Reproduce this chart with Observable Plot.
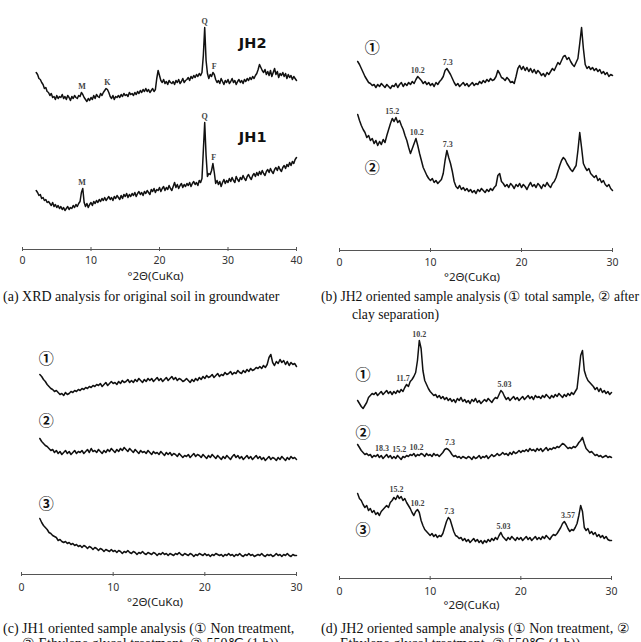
<!DOCTYPE html>
<html>
<head>
<meta charset="utf-8">
<script src="https://cdn.jsdelivr.net/npm/d3@7"></script>
<script src="https://cdn.jsdelivr.net/npm/@observablehq/plot@0.6"></script>
<style>
  html, body { margin: 0; padding: 0; background: #fff; }
  body { width: 641px; height: 642px; overflow: hidden; position: relative; }
  .panel { position: absolute; }
  .panel svg { overflow: visible; background: none; }
  .cap { position: absolute; font-family: "Liberation Serif", "Times New Roman", serif;
         font-size: 14px; line-height: 16px; color: #111; white-space: nowrap;
         transform-origin: 0 0; }
</style>
</head>
<body>
<div id="pa" class="panel" style="left:0px;top:0px"></div>
<div id="pb" class="panel" style="left:320px;top:0px"></div>
<div id="pc" class="panel" style="left:0px;top:320px"></div>
<div id="pd" class="panel" style="left:320px;top:320px"></div>

<div class="cap" data-fit="280" style="left:3px;top:289px">(a) XRD analysis for original soil in groundwater</div>
<div class="cap" data-fit="318" data-group="b" style="left:321px;top:289px">(b) JH2 oriented sample analysis (① total sample, ② after</div>
<div class="cap" data-group="b" style="left:352px;top:307px">clay separation)</div>
<div class="cap" data-fit="299" data-group="c" style="left:3px;top:621px">(c) JH1 oriented sample analysis (① Non treatment,</div>
<div class="cap" data-group="c" style="left:22px;top:636px">② Ethylene glycol treatment, ③ 550℃ (1 h))</div>
<div class="cap" data-fit="311" data-group="d" style="left:321px;top:621px">(d) JH2 oriented sample analysis (① Non treatment, ②</div>
<div class="cap" data-group="d" style="left:340px;top:636px">Ethylene glycol treatment, ③ 550℃ (1 h))</div>

<script>
// Diffractograms sampled from 2° to the end of each scan every 0.2° 2θ.
const scanStart = 2;
const scanStep = 0.2;
const axisTitle = "°2Θ(CuKα)";

// (a) original soil, 2–40° 2θ
const jh2Original = [
  28,26,22,21,18,16,12,13,9,8,
  5,7,3,4,1,5,2,4,3,6,
  2,4,1,5,3,0,4,2,5,3,
  2,5,4,8,6,3,1,-1,2,0,
  3,1,5,2,6,4,3,7,5,8,
  10,12,11,8,4,2,5,1,4,3,
  5,3,6,4,7,5,6,4,8,6,
  7,5,8,6,9,7,10,8,11,9,
  12,9,11,8,10,12,9,11,22,30,
  25,20,18,21,17,19,16,20,18,17,
  19,16,20,18,21,17,19,22,18,20,
  21,23,20,24,22,25,23,26,24,27,
  25,28,45,73,40,27,22,26,24,28,
  26,21,18,20,17,22,19,16,20,18,
  21,17,19,22,18,20,16,19,21,18,
  20,17,21,19,22,20,23,21,24,22,
  25,27,31,36,33,30,28,31,26,29,
  25,30,24,28,32,26,29,23,27,25,
  28,24,27,22,26,23,25,21,24,22,
  20
];
const jh1Original = [
  20,18,15,16,12,13,10,11,8,9,
  7,5,8,4,6,3,5,2,4,1,
  3,0,2,4,1,3,2,5,3,6,
  4,7,9,18,22,8,4,7,3,6,
  8,5,9,7,10,8,11,9,12,10,
  13,10,12,14,11,13,10,14,12,15,
  13,11,15,12,16,14,17,13,16,14,
  17,15,18,14,17,19,16,18,15,19,
  17,20,18,16,21,19,22,18,21,20,
  23,19,22,24,20,23,21,25,22,20,
  24,28,23,26,22,25,27,23,26,24,
  27,25,28,24,27,29,26,28,25,30,
  28,32,60,88,55,34,37,36,40,47,
  38,27,30,26,29,24,28,31,27,30,
  28,32,29,33,30,28,34,31,29,33,
  31,35,32,30,34,36,33,31,35,37,
  34,38,35,39,36,40,37,35,39,41,
  38,42,39,37,41,43,40,44,41,39,
  43,45,42,46,44,48,45,49,47,51,
  53
];

// (b) JH2 oriented, 2–30° 2θ
const jh2Total = [
  27,24,20,16,12,9,6,5,3,4,
  1,4,2,5,3,1,4,2,0,3,
  2,5,1,4,6,2,5,3,6,4,
  7,5,9,12,10,8,5,7,4,6,
  3,5,2,6,4,7,9,12,18,20,
  17,14,10,6,3,5,2,4,6,3,
  5,2,4,6,3,5,4,7,5,8,
  6,9,7,10,8,9,12,18,15,11,
  10,8,11,9,6,7,5,12,20,23,
  19,22,18,21,17,20,16,19,15,18,
  16,13,15,12,16,14,17,20,18,22,
  26,24,28,32,33,29,31,27,24,22,
  26,30,45,61,40,24,20,22,19,21,
  18,20,17,19,15,17,14,16,12,14,
  13
];
const jh2Clay = [
  81,75,70,66,63,58,60,55,57,52,
  55,50,54,51,56,53,60,66,72,77,
  74,78,73,75,70,66,60,55,48,42,
  47,52,57,50,42,35,28,24,20,17,
  15,17,13,15,12,14,16,22,35,45,
  38,32,24,14,9,7,10,6,8,5,
  7,4,6,3,5,2,6,4,7,5,
  3,6,4,7,5,8,10,20,22,14,
  12,9,11,8,12,10,7,11,9,12,
  8,11,9,6,10,13,9,11,8,12,
  10,7,11,9,13,10,8,12,14,18,
  24,30,35,38,36,32,29,26,24,27,
  30,45,63,48,32,28,25,27,22,20,
  18,20,15,17,13,15,11,9,11,7,
  5
];

// (c) JH1 oriented, 2–30° 2θ
const jh1Untreated = [
  21,19,16,14,11,9,7,6,4,5,
  3,1,2,0,3,1,2,4,3,5,
  4,6,5,7,6,8,7,9,8,10,
  9,11,10,12,9,11,13,10,12,14,
  12,13,11,14,12,15,13,14,16,13,
  15,13,16,14,17,15,13,16,14,17,
  15,17,14,16,18,15,17,14,16,18,
  15,17,19,16,18,15,17,16,14,15,
  17,15,13,16,14,17,15,18,16,19,
  17,20,18,19,21,18,20,22,19,21,
  20,23,21,22,24,21,23,22,25,23,
  22,25,23,26,24,27,25,26,28,27,
  29,27,30,28,31,38,41,33,30,34,
  32,36,33,35,31,34,30,33,31,32,
  29
];
const jh1Glycol = [
  22,19,17,15,14,12,10,11,8,10,
  7,9,6,8,10,7,9,6,8,10,
  7,9,8,10,7,9,11,8,12,9,
  10,8,11,9,7,10,8,11,9,12,
  10,8,11,9,12,10,13,11,9,12,
  10,8,11,9,7,10,8,9,7,10,
  8,6,9,7,8,6,9,7,5,8,
  6,8,5,7,6,4,7,5,3,5,
  4,6,3,5,7,4,6,5,3,6,
  4,2,5,3,6,4,2,5,3,1,
  4,2,5,3,1,4,6,3,5,2,
  4,1,3,5,2,4,1,3,5,2,
  4,1,3,0,2,4,1,3,2,0,
  3,1,4,2,0,3,1,4,2,3,
  1
];
const jh1Heated = [
  38,34,31,29,27,24,23,21,20,19,
  16,17,15,14,15,13,14,12,13,11,
  12,10,11,9,11,10,8,10,9,7,
  9,8,6,8,7,5,7,6,5,7,
  5,6,4,6,5,3,5,4,6,4,
  3,5,4,2,4,3,5,3,2,4,
  3,2,4,3,1,3,2,4,2,3,
  1,3,2,1,3,2,4,2,1,3,
  2,1,3,2,0,2,1,3,2,1,
  3,1,2,0,2,1,3,2,1,2,
  0,2,1,3,1,2,0,2,1,3,
  1,0,2,1,3,1,2,0,1,2,
  1,3,1,0,2,1,2,0,1,3,
  1,2,0,2,1,3,1,0,2,1,
  1
];

// (d) JH2 oriented, 2–30° 2θ
const jh2Untreated = [
  10,7,4,2,5,8,13,15,17,16,
  18,15,17,19,16,18,20,17,19,16,
  19,17,20,18,21,19,23,26,24,29,
  31,34,38,50,70,62,40,30,26,22,
  19,17,15,16,13,15,12,14,11,13,
  10,12,9,11,8,12,10,13,9,11,
  8,10,7,11,9,12,8,10,7,9,
  11,9,12,10,8,11,13,12,16,20,
  18,14,11,13,10,12,14,11,13,10,
  12,14,11,13,15,12,14,11,15,13,
  14,12,15,13,16,14,12,15,13,16,
  14,17,15,13,16,14,17,15,18,16,
  19,22,38,55,60,40,34,30,28,26,
  24,21,23,19,22,18,20,17,19,16,
  18
];
const jh2Glycol = [
  16,13,10,8,6,7,5,6,3,5,
  4,6,3,5,2,4,6,3,5,2,
  4,2,5,3,1,4,3,5,4,6,
  5,7,4,6,5,7,6,4,7,5,
  6,4,7,5,6,4,6,8,11,12,
  11,9,6,4,5,3,4,2,4,3,
  2,4,3,1,4,2,3,5,2,4,
  3,5,2,4,6,4,5,7,5,6,
  8,6,7,5,8,6,9,7,8,10,
  8,10,9,11,9,12,10,11,9,12,
  10,12,9,11,13,10,12,11,13,12,
  14,13,15,17,16,14,12,13,12,14,
  13,15,18,20,23,17,12,10,8,9,
  7,5,6,4,5,3,4,5,3,4,
  3
];
const jh2Heated = [
  52,47,45,41,38,40,35,37,33,35,
  31,33,30,34,36,38,40,38,43,45,
  48,46,50,47,49,45,47,43,40,37,
  33,30,34,36,33,25,20,16,14,12,
  10,12,9,11,8,10,9,12,18,24,
  28,26,20,14,10,9,7,8,5,7,
  4,6,3,5,7,4,6,3,5,2,
  5,3,6,4,7,5,8,6,10,13,
  9,7,5,8,6,9,7,5,8,6,
  8,5,7,9,6,8,5,7,9,6,
  8,6,9,7,10,8,6,9,11,10,
  12,15,18,22,24,21,17,14,16,15,
  18,22,30,40,34,18,15,17,12,14,
  11,13,9,11,8,10,7,9,6,5,
  5
];

// Peak annotations: mineral letters (a) and d-spacings in Å (b, d), keyed by 2θ
const peaksJH2Original = [["M", 8.7], ["K", 12.4], ["Q", 26.6], ["F", 28.0]];
const peaksJH1Original = [["M", 8.7], ["Q", 26.6], ["F", 27.9]];
const peaksJH2Total = [["10.2", 8.6], ["7.3", 11.9]];
const peaksJH2Clay = [["15.2", 5.8], ["10.2", 8.5], ["7.3", 11.9]];
const peaksJH2Untreated = [["11.7", 7.0], ["10.2", 8.8], ["5.03", 18.2]];
const peaksJH2Glycol = [["18.3", 4.7], ["15.2", 6.6], ["10.2", 8.5], ["7.3", 12.2]];
const peaksJH2Heated = [["15.2", 6.3], ["10.2", 8.6], ["7.3", 12.1], ["5.03", 18.1], ["3.57", 25.2]];

const twoThetaAt = i => Math.round((scanStart + i * scanStep) * 10) / 10;
const sans = "'Noto Sans', 'DejaVu Sans', sans-serif";
const cjk = "'Noto Sans CJK KR', sans-serif";

function drawPanel(el, cfg) {
  const {width, height, axisY, xMax, marginLeft, marginRight, tickDy, titleDy, traces,
         names = [], sampleNames = []} = cfg;
  const rows = traces.flatMap(t =>
    t.values.map((v, i) => ({x: twoThetaAt(i), y: v + t.offset, id: t.id})));
  // each annotation sits just above the highest point of its trace near the peak
  const peakRows = traces.flatMap(t => t.peaks.map(([text, at]) => {
    const near = t.values.filter((v, i) => Math.abs(twoThetaAt(i) - at) <= 0.6 + 1e-9);
    return {x: at, y: d3.max(near) + t.offset + 6, text};
  }));
  const ticks = d3.range(0, xMax + 1, 10);
  const plot = Plot.plot({
    width, height,
    marginTop: 0, marginBottom: height - axisY, marginLeft, marginRight,
    style: {background: "none", overflow: "visible"},
    x: {domain: [0, xMax], axis: null},
    y: {domain: [0, axisY], axis: null},
    marks: [
      Plot.ruleY([{x1: 0, x2: xMax}], {y: () => 0, x1: "x1", x2: "x2", stroke: "#555", strokeWidth: 1}),
      Plot.ruleX(ticks, {x: d => d, y1: () => -2, y2: () => 2, stroke: "#555", strokeWidth: 1}),
      Plot.text(ticks, {x: d => d, y: () => 0, dy: tickDy, text: d => String(d),
        fontSize: 10.5, fontFamily: sans, fill: "#333"}),
      Plot.text([axisTitle], {x: () => xMax / 2, y: () => 0, dy: titleDy, dx: -4, text: d => d,
        fontSize: 11.5, fontFamily: sans, fill: "#222"}),
      Plot.line(rows, {x: "x", y: "y", z: "id", stroke: "#111", strokeWidth: 1.5,
        strokeLinejoin: "round", curve: "linear"}),
      Plot.text(peakRows, {x: "x", y: "y", text: "text", fontSize: 8, fontWeight: "bold",
        fontFamily: "'Liberation Serif', serif", fill: "#444"}),
      Plot.text(names, {x: "x", y: "y", text: "text", fontSize: 14.5, fontWeight: "bold",
        fontFamily: "'DejaVu Sans', sans-serif", fill: "#111"}),
      Plot.text(sampleNames, {x: "x", y: "y", text: "text", fontSize: 15, fontWeight: "bold",
        fontFamily: cjk, fill: "#111"})
    ]
  });
  el.append(plot);
}

drawPanel(document.getElementById("pa"), {
  width: 320, height: 285, axisY: 249, xMax: 40, marginLeft: 22, marginRight: 24,
  tickDy: 11.5, titleDy: 26.5,
  traces: [
    {id: "JH2", values: jh2Original, offset: 149, peaks: peaksJH2Original},
    {id: "JH1", values: jh1Original, offset: 39, peaks: peaksJH1Original}
  ],
  names: [{text: "JH2", x: 33.6, y: 206}, {text: "JH1", x: 33.6, y: 112}]
});

drawPanel(document.getElementById("pb"), {
  width: 321, height: 285, axisY: 250, xMax: 30, marginLeft: 19, marginRight: 29,
  tickDy: 12.5, titleDy: 27,
  traces: [
    {id: "total", values: jh2Total, offset: 162, peaks: peaksJH2Total},
    {id: "clay", values: jh2Clay, offset: 55, peaks: peaksJH2Clay}
  ],
  sampleNames: [{text: "①", x: 3.6, y: 202}, {text: "②", x: 3.6, y: 82}]
});

drawPanel(document.getElementById("pc"), {
  width: 320, height: 290, axisY: 254, xMax: 30, marginLeft: 21, marginRight: 24,
  tickDy: 13, titleDy: 28,
  traces: [
    {id: "untreated", values: jh1Untreated, offset: 179, peaks: []},
    {id: "glycol", values: jh1Glycol, offset: 114, peaks: []},
    {id: "heated", values: jh1Heated, offset: 18, peaks: []}
  ],
  sampleNames: [{text: "①", x: 2.7, y: 215}, {text: "②", x: 2.7, y: 153}, {text: "③", x: 2.7, y: 70}]
});

drawPanel(document.getElementById("pd"), {
  width: 321, height: 290, axisY: 258, xMax: 30, marginLeft: 19, marginRight: 30,
  tickDy: 13, titleDy: 27,
  traces: [
    {id: "untreated", values: jh2Untreated, offset: 168, peaks: peaksJH2Untreated},
    {id: "glycol", values: jh2Glycol, offset: 118, peaks: peaksJH2Glycol},
    {id: "heated", values: jh2Heated, offset: 33, peaks: peaksJH2Heated}
  ],
  sampleNames: [{text: "①", x: 2.6, y: 203}, {text: "②", x: 2.6, y: 145}, {text: "③", x: 2.6, y: 48}]
});

// Captions: squeeze each first line to its column width; a continuation line shares that squeeze.
const squeeze = {};
document.querySelectorAll(".cap[data-fit]").forEach(el => {
  const w = el.getBoundingClientRect().width;
  const s = Math.min(1, +el.dataset.fit / w);
  el.style.transform = `scaleX(${s})`;
  if (el.dataset.group) squeeze[el.dataset.group] = s;
});
document.querySelectorAll(".cap[data-group]:not([data-fit])").forEach(el => {
  el.style.transform = `scaleX(${squeeze[el.dataset.group]})`;
});
</script>
</body>
</html>
